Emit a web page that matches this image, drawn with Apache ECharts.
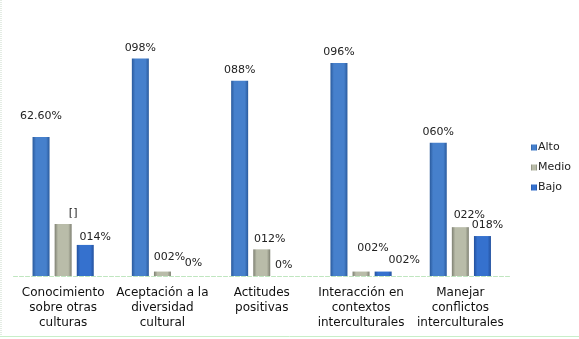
<!DOCTYPE html>
<html>
<head>
<meta charset="utf-8">
<script src="https://cdn.jsdelivr.net/npm/echarts@6/dist/echarts.min.js"></script>
<style>html,body{margin:0;padding:0;background:#fff;}#c{width:579px;height:339px;}</style>
</head>
<body>
<div id="c"></div>
<script>
// ---- data ----
const categories = [
  "Conocimiento\nsobre otras\nculturas",
  "Aceptación a la\ndiversidad\ncultural",
  "Actitudes\npositivas",
  "Interacción en\ncontextos\ninterculturales",
  "Manejar\nconflictos\ninterculturales"
];
const seriesNames = ["Alto", "Medio", "Bajo"];
const alto  = [62.6, 98, 88, 96, 60];
const medio = [23.4, 2, 12, 2, 22];
const bajo  = [14, 0, 0, 2, 18];
const altoLabels  = ["62.60%", "098%", "088%", "096%", "060%"];
const medioLabels = ["[]", "002%", "012%", "002%", "022%"];
const bajoLabels  = ["014%", "0%", "0%", "002%", "018%"];

// ---- presentation ----
const altoShift  = [[0,-10],[0,0],[0,0],[0,0],[0,0]];
const medioShift = [[10,0],[7,-4],[8,0],[12,-13],[9,-2]];
const bajoShift  = [[10,3],[9,-2],[0,0],[21,-1],[5,0]];

function grad(edge, mid) {
  return new echarts.graphic.LinearGradient(0, 0, 1, 0, [
    {offset: 0, color: edge}, {offset: 0.2, color: mid},
    {offset: 0.8, color: mid}, {offset: 1, color: edge}
  ]);
}
const colors = [grad('#2A5A9C', '#4680CC'), grad('#7E8072', '#B9BCA9'), grad('#23519E', '#3571CE')];

function mk(vals, labels, shifts) {
  return vals.map((v, i) => ({
    value: v,
    label: { formatter: labels[i], offset: shifts[i] }
  }));
}

const chart = echarts.init(document.getElementById('c'), null, {renderer: 'canvas'});
const mkSeries = (name, vals, labels, shifts, color) => ({
  name: name, type: 'bar', barWidth: 17, barGap: '30%',
  itemStyle: { color: color },
  label: { show: true, position: 'top', distance: 5, fontFamily: 'DejaVu Sans', fontSize: 11, color: '#222' },
  data: mk(vals, labels, shifts)
});
chart.setOption({
  animation: false,
  backgroundColor: '#fff',
  grid: { left: 13.5, right: 69, top: 54, bottom: 63 },
  legend: {
    orient: 'vertical', left: 526, top: 137,
    icon: 'rect', itemWidth: 6, itemHeight: 6, itemGap: 9,
    textStyle: { fontFamily: 'DejaVu Sans', fontSize: 11, color: '#222', padding: [0,0,0,-4] },
    data: seriesNames
  },
  xAxis: {
    type: 'category', data: categories,
    axisLine: { lineStyle: { color: '#bfe6bf', type: 'dashed', width: 1 } },
    axisTick: { show: false },
    axisLabel: { interval: 0, fontFamily: 'DejaVu Sans', fontSize: 12, lineHeight: 15, color: '#111', margin: 9 }
  },
  yAxis: { type: 'value', min: 0, max: 100, show: false, splitLine: { show: false } },
  series: [
    mkSeries(seriesNames[0], alto, altoLabels, altoShift, colors[0]),
    mkSeries(seriesNames[1], medio, medioLabels, medioShift, colors[1]),
    mkSeries(seriesNames[2], bajo, bajoLabels, bajoShift, colors[2])
  ],
  graphic: [
    { type: 'line', shape: { x1: 1, y1: 0, x2: 1, y2: 336 }, style: { stroke: '#c8d8c8', lineWidth: 1, lineDash: [1, 1] } },
    { type: 'line', shape: { x1: 0, y1: 336.5, x2: 579, y2: 336.5 }, style: { stroke: '#c8efc8', lineWidth: 1 } }
  ]
});
</script>
</body>
</html>
